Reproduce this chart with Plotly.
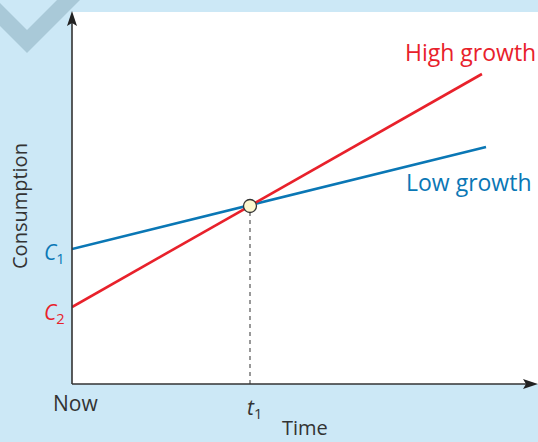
import plotly.graph_objects as go

# Data (t1 = 1 time unit; consumption in arbitrary units)
time_pts = [0, 1]
low_growth_t = [0, 2.326]
low_growth_c = [1.35, 2.37]
high_growth_t = [0, 2.303]
high_growth_c = [0.77, 3.10]
cross_t = [1.0]
cross_c = [1.78]
x_ticks = ["Now", "<i>t</i><sub>1</sub>"]
y_ticks = ["<i>C</i><sub>1</sub>", "<i>C</i><sub>2</sub>"]

BLUE = "#0a77b5"
RED = "#e8212b"
DARK = "#333333"
BG = "#cce8f6"
FONT = "Open Sans"

XMAX = 2.618
YMAX = 3.72

def px(xp):
    return (xp - 72) / 466

def py(yp):
    return (384 - yp) / 372

def path(points):
    return "M " + " L ".join("{} {}".format(px(a), py(b)) for a, b in points) + " Z"

fig = go.Figure()

fig.add_trace(go.Scatter(x=[cross_t[0], cross_t[0]], y=[0, cross_c[0]], mode="lines",
                         line=dict(color="#555555", width=1.2, dash="4px,4px"),
                         hoverinfo="skip", showlegend=False))
fig.add_trace(go.Scatter(x=low_growth_t, y=low_growth_c, mode="lines",
                         line=dict(color=BLUE, width=2.6), showlegend=False))
fig.add_trace(go.Scatter(x=high_growth_t, y=high_growth_c, mode="lines",
                         line=dict(color=RED, width=2.6), showlegend=False))
fig.add_trace(go.Scatter(x=cross_t, y=cross_c, mode="markers",
                         marker=dict(size=13, color="#fdf7cf", line=dict(color=DARK, width=1.3)),
                         showlegend=False))

shapes = [
    dict(type="path", xref="paper", yref="paper", layer="below",
         path=path([(0, 3), (27, 30), (57, 0), (80, 0), (27, 53), (0, 26)]),
         fillcolor="#a9c9d8", line=dict(width=0)),
    dict(type="rect", xref="paper", yref="paper", layer="below",
         x0=0, x1=1, y0=0, y1=1, fillcolor="white", line=dict(width=0)),
    # axis lines
    dict(type="line", xref="paper", yref="paper", layer="above",
         x0=px(72), y0=py(384), x1=px(72), y1=py(20), line=dict(color=DARK, width=1.6)),
    dict(type="line", xref="paper", yref="paper", layer="above",
         x0=px(72), y0=py(384), x1=px(530), y1=py(384), line=dict(color=DARK, width=1.6)),
    # arrowheads
    dict(type="path", xref="paper", yref="paper", layer="above",
         path=path([(72, 11), (77, 26), (72, 23), (67, 26)]),
         fillcolor="#222222", line=dict(width=0)),
    dict(type="path", xref="paper", yref="paper", layer="above",
         path=path([(538, 384), (523, 389), (526, 384), (523, 379)]),
         fillcolor="#222222", line=dict(width=0)),
]

def label(xp, yp, text, color, size, xanchor="center", angle=0):
    return dict(x=px(xp), y=py(yp), xref="paper", yref="paper", xanchor=xanchor,
                yanchor="middle", text=text, textangle=angle, showarrow=False,
                font=dict(color=color, size=size, family=FONT))

annotations = [
    label(538, 52, "High growth", RED, 23, xanchor="right"),
    label(534, 182, "Low growth", BLUE, 23, xanchor="right"),
    label(67, 253, y_ticks[0], BLUE, 21, xanchor="right"),
    label(67, 313, y_ticks[1], RED, 21, xanchor="right"),
    label(75, 403, x_ticks[0], DARK, 21),
    label(254, 408, x_ticks[1], DARK, 21),
    label(305, 428, "Time", DARK, 20),
    label(19, 206, "Consumption", DARK, 20, angle=-90),
]

fig.update_layout(
    width=538, height=442,
    margin=dict(l=72, r=0, t=12, b=58),
    paper_bgcolor=BG, plot_bgcolor="rgba(0,0,0,0)",
    xaxis=dict(range=[0, XMAX], showgrid=False, zeroline=False, showticklabels=False,
               ticks="", showline=False, fixedrange=True),
    yaxis=dict(range=[0, YMAX], showgrid=False, zeroline=False, showticklabels=False,
               ticks="", showline=False, fixedrange=True),
    shapes=shapes, annotations=annotations,
    font=dict(family=FONT, color=DARK),
)

fig.write_html("out.html", config={"displayModeBar": False},
               post_script="document.body.style.margin='0';document.body.style.padding='0';")
